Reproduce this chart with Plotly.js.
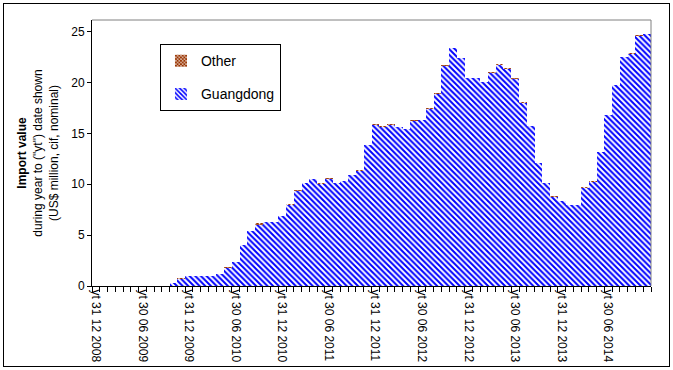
<!DOCTYPE html>
<html>
<head>
<meta charset="utf-8">
<script src="https://cdn.plot.ly/plotly-3.0.1.min.js"></script>
<style>
  html, body { margin: 0; padding: 0; background: #ffffff; }
  #wrap { position: relative; width: 673px; height: 370px; }
  #chart { position: absolute; left: 0; top: 0; width: 673px; height: 370px; }
  #frame { position: absolute; left: 3px; top: 3px; width: 667px; height: 364px;
           box-sizing: border-box; border: 1px solid #000; pointer-events: none; }
</style>
</head>
<body>
<div id="wrap">
  <div id="chart"></div>
  <div id="frame"></div>
</div>
<script>
// Monthly periods (year to date shown), Dec 2008 .. Nov 2014
const categories = [
  "Dec 2008",
  "Jan 2009","Feb 2009","Mar 2009","Apr 2009","May 2009","Jun 2009","Jul 2009","Aug 2009","Sep 2009","Oct 2009","Nov 2009","Dec 2009",
  "Jan 2010","Feb 2010","Mar 2010","Apr 2010","May 2010","Jun 2010","Jul 2010","Aug 2010","Sep 2010","Oct 2010","Nov 2010","Dec 2010",
  "Jan 2011","Feb 2011","Mar 2011","Apr 2011","May 2011","Jun 2011","Jul 2011","Aug 2011","Sep 2011","Oct 2011","Nov 2011","Dec 2011",
  "Jan 2012","Feb 2012","Mar 2012","Apr 2012","May 2012","Jun 2012","Jul 2012","Aug 2012","Sep 2012","Oct 2012","Nov 2012","Dec 2012",
  "Jan 2013","Feb 2013","Mar 2013","Apr 2013","May 2013","Jun 2013","Jul 2013","Aug 2013","Sep 2013","Oct 2013","Nov 2013","Dec 2013",
  "Jan 2014","Feb 2014","Mar 2014","Apr 2014","May 2014","Jun 2014","Jul 2014","Aug 2014","Sep 2014","Oct 2014","Nov 2014"
];

// Import value, US$ million
const guangdong = [
  0, 0, 0, 0, 0, 0, 0, 0, 0, 0, 0.25, 0.68, 0.95,
  0.95, 0.95, 0.95, 1.2, 1.78, 2.4, 4.0, 5.4, 6.03, 6.3, 6.3, 6.9,
  7.98, 9.35, 10.15, 10.5, 10.0, 10.48, 10.15, 10.35, 10.95, 11.3, 13.9, 15.85,
  15.67, 15.85, 15.6, 15.4, 16.25, 16.3, 17.4, 18.85, 21.6, 23.4, 22.4, 20.4,
  20.4, 20.1, 20.92, 21.72, 21.32, 20.35, 17.98, 15.75, 12.1, 10.15, 8.75, 8.4,
  8.0, 8.0, 9.67, 10.27, 13.2, 16.85, 19.8, 22.5, 22.8, 24.53, 24.75
];
const other = [
  0, 0, 0, 0, 0, 0, 0, 0, 0, 0, 0, 0.12, 0.05,
  0.05, 0.05, 0.05, 0, 0.12, 0, 0, 0, 0.12, 0, 0, 0,
  0.12, 0.1, 0, 0, 0.1, 0.12, 0, 0, 0, 0.1, 0, 0.1,
  0.08, 0.1, 0, 0, 0.05, 0, 0.1, 0.1, 0.1, 0, 0, 0,
  0, 0, 0.08, 0.08, 0.08, 0.05, 0.12, 0, 0, 0, 0.05, 0,
  0, 0, 0.08, 0.08, 0, 0, 0, 0, 0.1, 0.12, 0
];

// Labelled periods on the x axis
const tickLabels = [
  "yt 31 12 2008", "yt 30 06 2009", "yt 31 12 2009", "yt 30 06 2010",
  "yt 31 12 2010", "yt 30 06 2011", "yt 31 12 2011", "yt 30 06 2012",
  "yt 31 12 2012", "yt 30 06 2013", "yt 31 12 2013", "yt 30 06 2014"
];
const tickCategories = [
  "Dec 2008", "Jun 2009", "Dec 2009", "Jun 2010", "Dec 2010", "Jun 2011",
  "Dec 2011", "Jun 2012", "Dec 2012", "Jun 2013", "Dec 2013", "Jun 2014"
];

const xIdx = categories.map((c, i) => i);
const tickvals = tickCategories.map(c => categories.indexOf(c));
const FONT = '"Liberation Sans", Arial, sans-serif';

const traces = [
  {
    type: 'bar', name: 'Guangdong', x: xIdx, y: guangdong, customdata: categories,
    legendgroup: 'g', legendrank: 2,
    marker: {
      color: '#ffffff',
      line: { width: 0 },
      pattern: { shape: '\\', fgcolor: '#0000ff', bgcolor: '#ffffff', size: 4, solidity: 0.5 }
    },
    hovertemplate: '%{customdata}: %{y}<extra>Guangdong</extra>'
  },
  {
    type: 'bar', name: 'Other', x: xIdx, y: other, customdata: categories,
    legendgroup: 'o', legendrank: 1,
    marker: {
      color: '#993300',
      line: { width: 0 },
      pattern: { shape: 'x', fgcolor: '#993300', bgcolor: '#ffffff', size: 3, solidity: 0.7 }
    },
    hovertemplate: '%{customdata}: %{y}<extra>Other</extra>'
  }
];

const layout = {
  width: 673, height: 370,
  margin: { l: 92, r: 22, t: 20, b: 84 },
  paper_bgcolor: '#ffffff', plot_bgcolor: '#ffffff',
  barmode: 'stack', bargap: 0,
  font: { family: FONT, size: 12, color: '#000000' },
  showlegend: true,
  legend: {
    x: 0.1216, y: 0.909, xanchor: 'left', yanchor: 'top',
    bgcolor: '#ffffff', bordercolor: '#000000', borderwidth: 1,
    font: { family: FONT, size: 14, color: '#000000' },
    traceorder: 'grouped', tracegroupgap: 12, itemwidth: 30
  },
  xaxis: {
    type: 'linear', range: [-0.5, 71.5], fixedrange: true,
    tickmode: 'array', tickvals: tickvals, ticktext: tickLabels,
    tickangle: 90, ticks: '', showgrid: false, zeroline: false,
    showline: true, linecolor: '#000000', linewidth: 1,
    tickfont: { family: FONT, size: 12, color: '#000000' },
    minor: { tickmode: 'linear', tick0: -0.5, dtick: 1, ticks: 'outside', ticklen: 5,
             tickcolor: '#000000', tickwidth: 1, showgrid: false }
  },
  yaxis: {
    range: [0, 26.15], fixedrange: true,
    tickmode: 'linear', tick0: 0, dtick: 5,
    ticks: 'outside', ticklen: 4, tickcolor: '#000000',
    showgrid: false, zeroline: false,
    showline: true, linecolor: '#000000', linewidth: 1,
    tickfont: { family: FONT, size: 12, color: '#000000' },
    title: {
      text: '<b>Import value</b><br>during year to ("yt") date shown<br>(US$ million, cif, nominal)',
      font: { family: FONT, size: 12, color: '#000000' },
      standoff: 10
    }
  },
  shapes: [
    { type: 'line', xref: 'paper', yref: 'paper', x0: 0, x1: 1, y0: 1, y1: 1,
      line: { color: '#808080', width: 1 } },
    { type: 'line', xref: 'paper', yref: 'paper', x0: 1, x1: 1, y0: 0, y1: 1,
      line: { color: '#808080', width: 1 } }
  ]
};

Plotly.newPlot('chart', traces, layout, { displayModeBar: false, staticPlot: true });
</script>
</body>
</html>
